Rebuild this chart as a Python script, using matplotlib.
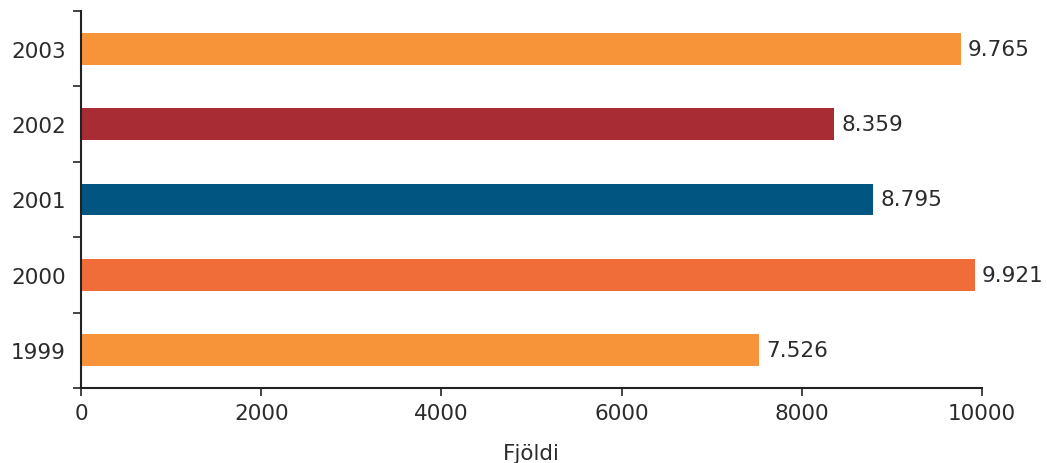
import matplotlib
matplotlib.use("Agg")
import matplotlib.pyplot as plt

years = ["1999", "2000", "2001", "2002", "2003"]
values = [7526, 9921, 8795, 8359, 9765]
labels = ["7.526", "9.921", "8.795", "8.359", "9.765"]
colors = ["#F7943A", "#F06C38", "#005581", "#A82C34", "#F7943A"]
xticks = [0, 2000, 4000, 6000, 8000, 10000]

plt.rcParams['font.family'] = ['DejaVu Sans']
fs = 15.5
tc = '#2b2b2b'
fig = plt.figure(figsize=(10.47, 4.64), dpi=100)
ax = fig.add_axes([81/1047, 1 - 389/464, (982-81)/1047, (389-12)/464])

pos = list(range(len(years)))
ax.barh(pos, values, height=0.42, color=colors)
for p, v, l in zip(pos, values, labels):
    ax.text(v + 80, p, l, va='center', ha='left', fontsize=fs, color=tc)

ax.set_xlim(0, 10000)
ax.set_ylim(-0.5, len(years) - 0.5)
ax.set_xticks(xticks)
ax.set_xticklabels([str(t) for t in xticks], fontsize=fs, color=tc)
ax.set_yticks(pos)
ax.set_yticklabels(years, fontsize=fs, color=tc)
ax.tick_params(axis='y', length=0, pad=11)
ax.set_yticks([i - 0.5 for i in range(len(years) + 1)], minor=True)
ax.tick_params(axis='y', which='minor', length=6, width=1.2, color='#222222')
ax.tick_params(axis='x', length=6, width=1.2, color='#222222', pad=5)
for s in ['top', 'right']:
    ax.spines[s].set_visible(False)
for s in ['left', 'bottom']:
    ax.spines[s].set_linewidth(1.5)
    ax.spines[s].set_color('#222222')
ax.set_xlabel("Fjöldi", fontsize=fs, color=tc, labelpad=14)

fig.savefig("out.png", dpi=100)
